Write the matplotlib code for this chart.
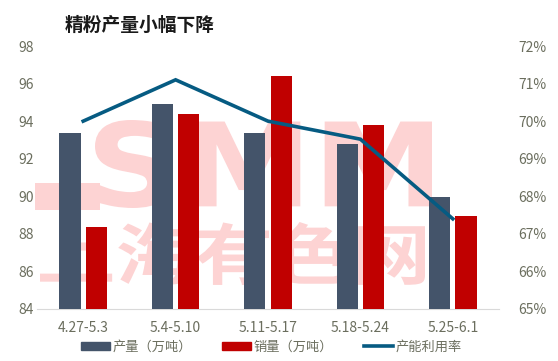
import matplotlib
matplotlib.use("Agg")
import matplotlib.pyplot as plt
import numpy as np
from matplotlib.lines import Line2D
from matplotlib.patches import Patch, PathPatch
from matplotlib.textpath import TextPath
from matplotlib.font_manager import FontProperties
from matplotlib.transforms import Affine2D

plt.rcParams['font.family'] = ['Noto Sans CJK SC', 'DejaVu Sans']

categories = ["4.27-5.3", "5.4-5.10", "5.11-5.17", "5.18-5.24", "5.25-6.1"]
production = [93.37, 94.91, 93.37, 92.79, 89.97]
sales = [88.39, 94.38, 96.40, 93.80, 88.96]
utilization = [70.0, 71.1, 70.0, 69.52, 67.40]

c_prod = "#44546A"
c_sales = "#C00000"
c_line = "#065B82"
c_text = "#6B6E5E"
c_wm = "#FDD3D3"

W, H = 558, 361
fig = plt.figure(figsize=(W/100, H/100), dpi=100)
ax = fig.add_axes([37/W, 1 - 309/H, (499-37)/W, (309-46)/H])
ax2 = ax.twinx()


def watermark(text, x0, y0, x1, y1, fp):
    tp = TextPath((0, 0), text, size=100, prop=fp)
    ext = tp.get_extents()
    sx = (x1 - x0) / ext.width
    sy = (y1 - y0) / ext.height
    tr = Affine2D().translate(-ext.x0, -ext.y0).scale(sx, sy).translate(x0, H - y1)
    pp = PathPatch(tr.transform_path(tp), facecolor=c_wm, edgecolor="none",
                   transform=Affine2D(), zorder=1, clip_on=False)
    ax.add_artist(pp)


watermark("SMM", 95, 120, 432, 208, FontProperties(family="DejaVu Sans", weight="bold"))
watermark("上海有色网", 40, 222, 425, 285, FontProperties(family="Noto Sans CJK SC", weight="bold"))
ax.add_artist(PathPatch(
    Affine2D().transform_path(matplotlib.path.Path(
        [(35, H-183), (100, H-183), (100, H-210), (35, H-210), (35, H-183)])),
    facecolor=c_wm, edgecolor="none", transform=Affine2D(), zorder=1, clip_on=False))

x = np.arange(len(categories))
w = 0.23
gap = 0.055
ax.bar(x - (w + gap) / 2, np.array(production) - 84, bottom=84, width=w, color=c_prod, zorder=3)
ax.bar(x + (w + gap) / 2, np.array(sales) - 84, bottom=84, width=w, color=c_sales, zorder=3)
ax.set_ylim(84, 98)
ax.set_yticks(np.arange(84, 99, 2))
ax.set_xlim(-0.5, len(categories) - 0.5)
ax.set_xticks(x)
ax.set_xticklabels(categories)
ax.patch.set_alpha(0)

ax2.plot(x, utilization, color=c_line, lw=2.6, zorder=4, solid_joinstyle='miter')
ax2.set_ylim(65, 72)
ax2.set_yticks(np.arange(65, 73, 1))
ax2.set_yticklabels([f"{v}%" for v in range(65, 73)])

for a in (ax, ax2):
    for s in a.spines.values():
        s.set_visible(False)
    a.tick_params(length=0, labelsize=10, colors=c_text)
ax.spines['bottom'].set_visible(True)
ax.spines['bottom'].set_color("#D9D9D9")
ax.tick_params(axis='y', pad=2)
ax2.tick_params(axis='y', pad=14)
ax.tick_params(axis='x', pad=9)

fig.text(65/W, 1 - 25/H, "精粉产量小幅下降", fontsize=13.5, fontweight="bold",
         color="#1A1A1A", ha="left", va="center")

handles = [Patch(color=c_prod), Patch(color=c_sales), Line2D([], [], color=c_line, lw=2.6)]
labels = ["产量（万吨）", "销量（万吨）", "产能利用率"]
fig.legend(handles, labels, loc="center", bbox_to_anchor=(271/W, 1 - 347/H), ncol=3,
           frameon=False, fontsize=9.5, labelcolor=c_text, handlelength=2.2, handleheight=0.6,
           handletextpad=0.2, columnspacing=2.3)

fig.savefig("out.png", dpi=100)
